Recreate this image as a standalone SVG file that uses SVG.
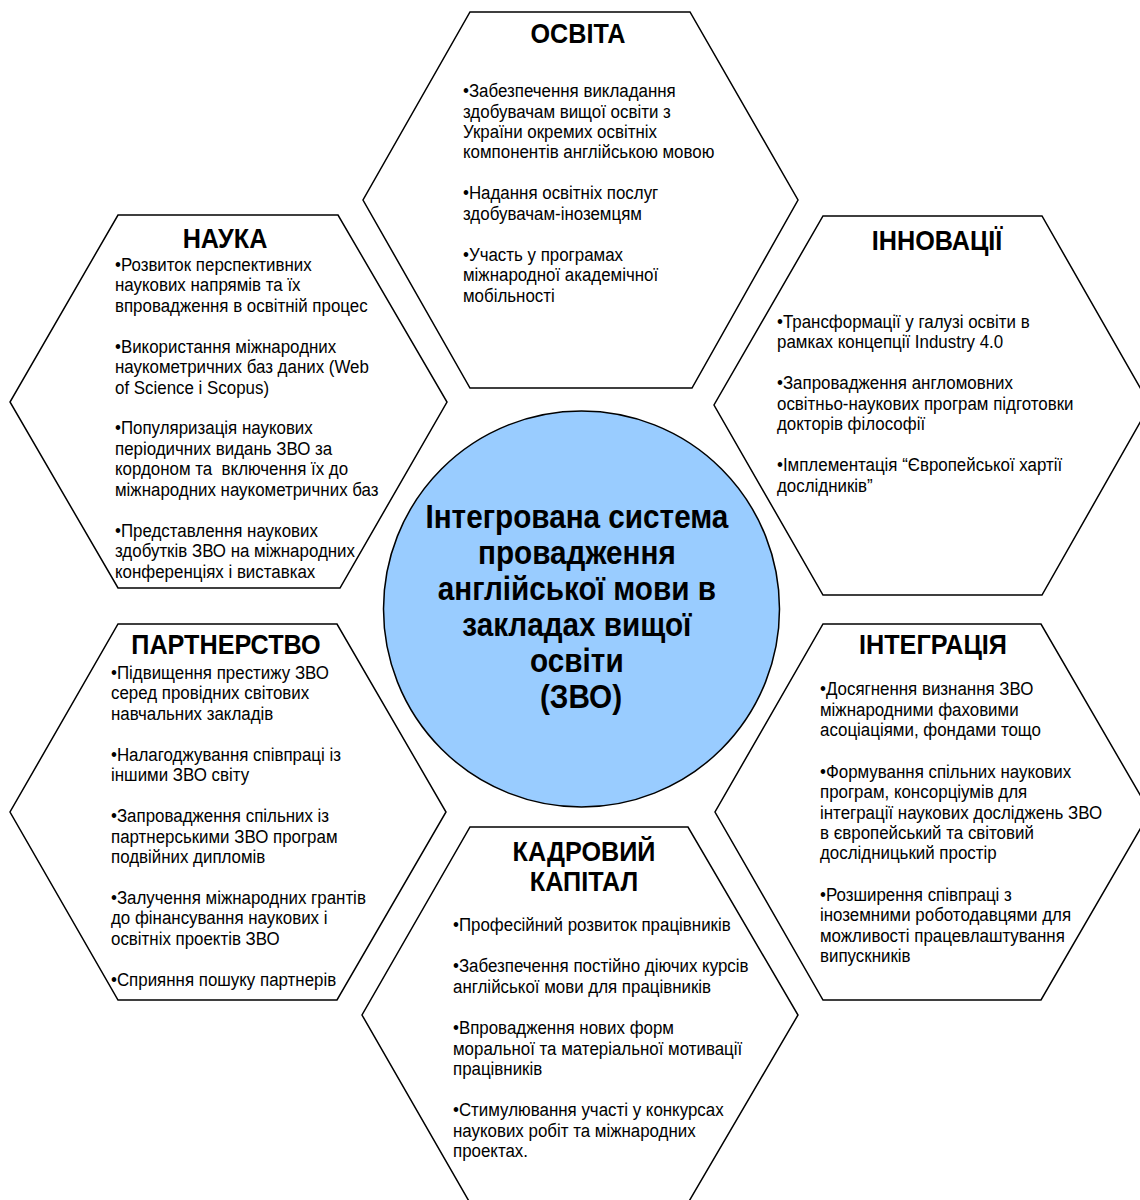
<svg xmlns="http://www.w3.org/2000/svg" width="1140" height="1200" viewBox="0 0 1140 1200">
<style>
.hex{fill:#fff;stroke:#000;stroke-width:1.5}
.ctr{fill:#99CCFF;stroke:#000;stroke-width:1.5}
text{font-family:"Liberation Sans Narrow","Arial Narrow","Liberation Sans",sans-serif;fill:#000}
.b{font-size:19px}
.h{font-size:28px;font-weight:bold;text-anchor:middle}
.c{font-size:33px;font-weight:bold;text-anchor:middle}
</style>
<rect width="1140" height="1200" fill="#fff"/>
<g id="connectors"/>
<g id="osvita">
<polygon class="hex" points="470,12 690,12 798,200 692,388 470,388 363,200"/>
<text class="h" transform="translate(578,0) scale(0.9,1)" x="0" y="43">ОСВІТА</text>
<text class="b" transform="translate(463,0) scale(0.89,1)">
<tspan x="0" y="97">•Забезпечення викладання</tspan>
<tspan x="0" y="118">здобувачам вищої освіти з</tspan>
<tspan x="0" y="138">України окремих освітніх</tspan>
<tspan x="0" y="158.5">компонентів англійською мовою</tspan>
<tspan x="0" y="199">•Надання освітніх послуг</tspan>
<tspan x="0" y="220">здобувачам-іноземцям</tspan>
<tspan x="0" y="261">•Участь у програмах</tspan>
<tspan x="0" y="281">міжнародної академічної</tspan>
<tspan x="0" y="302">мобільності</tspan>
</text>
</g>
<g id="nauka">
<polygon class="hex" points="118,215 338,215 447,402 340,588 118,588 10,402"/>
<text class="h" transform="translate(225,0) scale(0.9,1)" x="0" y="248">НАУКА</text>
<text class="b" transform="translate(115,0) scale(0.89,1)">
<tspan x="0" y="271">•Розвиток перспективних</tspan>
<tspan x="0" y="291">наукових напрямів та їх</tspan>
<tspan x="0" y="312">впровадження в освітній процес</tspan>
<tspan x="0" y="353">•Використання міжнародних</tspan>
<tspan x="0" y="373">наукометричних баз даних (Web</tspan>
<tspan x="0" y="394">of Science і Scopus)</tspan>
<tspan x="0" y="434">•Популяризація наукових</tspan>
<tspan x="0" y="455">періодичних видань ЗВО за</tspan>
<tspan x="0" y="475" xml:space="preserve">кордоном та  включення їх до</tspan>
<tspan x="0" y="496">міжнародних наукометричних баз</tspan>
<tspan x="0" y="537">•Представлення наукових</tspan>
<tspan x="0" y="557">здобутків ЗВО на міжнародних</tspan>
<tspan x="0" y="578">конференціях і виставках</tspan>
</text>
</g>
<g id="innovatsii">
<polygon class="hex" points="823,216 1042,216 1150,405 1042,595 823,595 714,405"/>
<text class="h" transform="translate(937,0) scale(0.9,1)" x="0" y="250">ІННОВАЦІЇ</text>
<text class="b" transform="translate(777,0) scale(0.89,1)">
<tspan x="0" y="328">•Трансформації у галузі освіти в</tspan>
<tspan x="0" y="348">рамках концепції Industry 4.0</tspan>
<tspan x="0" y="389">•Запровадження англомовних</tspan>
<tspan x="0" y="410">освітньо-наукових програм підготовки</tspan>
<tspan x="0" y="430">докторів філософії</tspan>
<tspan x="0" y="471">•Імплементація “Європейської хартії</tspan>
<tspan x="0" y="492">дослідників”</tspan>
</text>
</g>
<g id="partnerstvo">
<polygon class="hex" points="118,624 337,624 446,812 337,1000 118,1000 10,812"/>
<text class="h" transform="translate(226,0) scale(0.9,1)" x="0" y="654">ПАРТНЕРСТВО</text>
<text class="b" transform="translate(111,0) scale(0.89,1)">
<tspan x="0" y="679">•Підвищення престижу ЗВО</tspan>
<tspan x="0" y="699">серед провідних світових</tspan>
<tspan x="0" y="720">навчальних закладів</tspan>
<tspan x="0" y="761">•Налагоджування співпраці із</tspan>
<tspan x="0" y="781">іншими ЗВО світу</tspan>
<tspan x="0" y="822">•Запровадження спільних із</tspan>
<tspan x="0" y="843">партнерськими ЗВО програм</tspan>
<tspan x="0" y="863">подвійних дипломів</tspan>
<tspan x="0" y="904">•Залучення міжнародних грантів</tspan>
<tspan x="0" y="924">до фінансування наукових і</tspan>
<tspan x="0" y="945">освітніх проектів ЗВО</tspan>
<tspan x="0" y="986">•Сприяння пошуку партнерів</tspan>
</text>
</g>
<g id="integratsiia">
<polygon class="hex" points="823,624 1041,624 1150,812 1041,1000 823,1000 715,812"/>
<text class="h" transform="translate(933,0) scale(0.9,1)" x="0" y="654">ІНТЕГРАЦІЯ</text>
<text class="b" transform="translate(820,0) scale(0.89,1)">
<tspan x="0" y="695">•Досягнення визнання ЗВО</tspan>
<tspan x="0" y="716">міжнародними фаховими</tspan>
<tspan x="0" y="736">асоціаціями, фондами тощо</tspan>
<tspan x="0" y="778">•Формування спільних наукових</tspan>
<tspan x="0" y="798">програм, консорціумів для</tspan>
<tspan x="0" y="819">інтеграції наукових досліджень ЗВО</tspan>
<tspan x="0" y="839">в європейський та світовий</tspan>
<tspan x="0" y="859">дослідницький простір</tspan>
<tspan x="0" y="901">•Розширення співпраці з</tspan>
<tspan x="0" y="921">іноземними роботодавцями для</tspan>
<tspan x="0" y="942">можливості працевлаштування</tspan>
<tspan x="0" y="962">випускників</tspan>
</text>
</g>
<g id="kadrovyi">
<polygon class="hex" points="470,827 688,827 798,1015 688,1203 470,1203 362,1015"/>
<text class="h" transform="translate(584,0) scale(0.9,1)"><tspan x="0" y="861">КАДРОВИЙ</tspan><tspan x="0" y="891">КАПІТАЛ</tspan></text>
<text class="b" transform="translate(453,0) scale(0.89,1)">
<tspan x="0" y="931">•Професійний розвиток працівників</tspan>
<tspan x="0" y="972">•Забезпечення постійно діючих курсів</tspan>
<tspan x="0" y="993">англійської мови для працівників</tspan>
<tspan x="0" y="1034">•Впровадження нових форм</tspan>
<tspan x="0" y="1055">моральної та матеріальної мотивації</tspan>
<tspan x="0" y="1075">працівників</tspan>
<tspan x="0" y="1116">•Стимулювання участі у конкурсах</tspan>
<tspan x="0" y="1137">наукових робіт та міжнародних</tspan>
<tspan x="0" y="1157">проектах.</tspan>
</text>
</g>
<g id="center">
<circle class="ctr" cx="581.5" cy="609" r="198"/>
<text class="c" transform="translate(581,0) scale(0.9,1)">
<tspan x="0" y="528">Інтегрована система</tspan>
<tspan x="0" y="564">провадження</tspan>
<tspan x="0" y="600">англійської мови в</tspan>
<tspan x="0" y="636">закладах вищої</tspan>
<tspan x="0" y="672">освіти</tspan>
<tspan x="0" y="708">(ЗВО)</tspan>
</text>
</g>
</svg>
